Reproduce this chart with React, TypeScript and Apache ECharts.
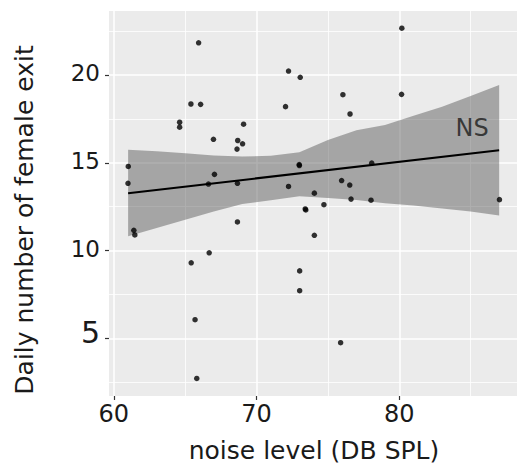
import React, { useEffect, useRef } from "react";
import * as echarts from "echarts";

const noiseLevel = [
  65.94, 65.4, 66.08, 64.61, 64.61, 69.09, 66.98, 68.68, 69.02, 68.63,
  61.01, 60.99, 67.05, 66.63, 68.66, 68.66, 61.4, 61.47, 66.68, 65.42,
  65.69, 65.81, 80.18, 72.24, 73.06, 76.05, 80.16, 72.03, 76.55, 72.99,
  78.07, 72.24, 75.96, 76.53, 74.05, 76.62, 78.02, 74.72, 73.41, 87.02,
  74.05, 73.02, 73.02, 75.89, 73.0, 73.45,
];
const femaleExits = [
  21.84, 18.35, 18.33, 17.31, 17.03, 17.2, 16.34, 16.27, 16.08, 15.78,
  14.79, 13.83, 14.34, 13.79, 13.83, 11.63, 11.15, 10.89, 9.87, 9.3,
  6.06, 2.71, 22.67, 20.23, 19.87, 18.88, 18.9, 18.2, 17.78, 14.9,
  14.98, 13.65, 13.99, 13.73, 13.27, 12.93, 12.87, 12.61, 12.37, 12.9,
  10.87, 8.84, 7.71, 4.75, 14.84, 12.31,
];

// Fitted line and its confidence band
const fitX = [61.0, 87.0];
const fitY = [13.27, 15.71];
const bandX = [61, 63, 65, 67, 69, 71, 73, 75, 77, 79, 81, 83, 85, 87];
const bandUpper = [15.74, 15.66, 15.55, 15.42, 15.36, 15.4, 15.6, 16.3, 16.85, 17.15, 17.68, 18.2, 18.81, 19.43];
const bandLower = [10.81, 11.28, 11.76, 12.23, 12.65, 12.86, 13.09, 13.0, 12.88, 12.7, 12.56, 12.4, 12.22, 11.99];

// Axes
const xTicks = [60, 70, 80];
const yTicks = [5, 10, 15, 20];
const xMinorGrid = [65, 75, 85];
const yMinorGrid = [2.5, 7.5, 12.5, 17.5, 22.5];
const xRange = [59.66, 88.25];
const yRange = [1.71, 23.65];

const annotation = "NS";
const annotationPos = [85.1, 17.0];
const xTitle = "noise level (DB SPL)";
const yTitle = "Daily number of female exit";

export default function App() {
  const ref = useRef<HTMLDivElement>(null);
  useEffect(() => {
    const chart = echarts.init(ref.current!, null, { renderer: "svg" });
    const font = "DejaVu Sans";
    const majorLine = { width: 1.5, color: "#ffffff", type: "solid" };
    const minorLine = { width: 0.8, color: "#ffffff", type: "solid" };
    const gridData: any[] = [
      ...xMinorGrid.map((v) => ({ xAxis: v, lineStyle: minorLine })),
      ...yMinorGrid.map((v) => ({ yAxis: v, lineStyle: minorLine })),
      ...xTicks.map((v) => ({ xAxis: v, lineStyle: majorLine })),
      ...yTicks.map((v) => ({ yAxis: v, lineStyle: majorLine })),
    ];
    chart.setOption({
      animation: false,
      grid: {
        left: 109,
        top: 11,
        width: 416,
        height: 385,
        show: true,
        backgroundColor: "#EBEBEB",
        borderWidth: 0,
      },
      xAxis: {
        type: "value",
        min: xRange[0],
        max: xRange[1],
        axisLine: { show: false },
        splitLine: { show: false },
        axisTick: {
          show: true,
          customValues: xTicks,
          length: 4,
          lineStyle: { color: "#333333", width: 1.2 },
        },
        axisLabel: {
          customValues: xTicks,
          margin: 6,
          fontSize: 24,
          fontFamily: font,
          color: "#1a1a1a",
        },
      },
      yAxis: {
        type: "value",
        min: yRange[0],
        max: yRange[1],
        axisLine: { show: false },
        splitLine: { show: false },
        axisTick: {
          show: true,
          customValues: yTicks,
          length: 4,
          lineStyle: { color: "#333333", width: 1.2 },
        },
        axisLabel: {
          customValues: yTicks,
          margin: 9,
          fontFamily: font,
          color: "#1a1a1a",
          formatter: (v: number) => (v === 5 ? "{big|5}" : "{n|" + v + "}"),
          rich: {
            n: { fontSize: 23, fontFamily: font, color: "#1a1a1a", padding: [0, 0, 4, 0] },
            big: { fontSize: 30, fontFamily: font, color: "#1a1a1a", padding: [0, 0, 11, 0] },
          },
        },
      },
      series: [
        {
          type: "line",
          data: [],
          z: 1,
          silent: true,
          markLine: {
            z: 1,
            silent: true,
            symbol: "none",
            animation: false,
            label: { show: false },
            emphasis: { disabled: true },
            data: gridData,
          },
        },
        {
          type: "custom",
          z: 2,
          silent: true,
          data: bandX.map((x, i) => [x, bandLower[i], bandUpper[i]]),
          encode: { x: 0, y: [1, 2] },
          renderItem: (params: any, api: any) => {
            if (params.dataIndex !== 0) return { type: "group", children: [] };
            const up = bandX.map((x, i) => api.coord([x, bandUpper[i]]));
            const lo = bandX.map((x, i) => api.coord([x, bandLower[i]])).reverse();
            return {
              type: "polygon",
              shape: { points: up.concat(lo) },
              style: { fill: "rgba(80,80,80,0.45)" },
            };
          },
        },
        {
          type: "line",
          z: 3,
          silent: true,
          data: fitX.map((x, i) => [x, fitY[i]]),
          symbol: "none",
          lineStyle: { color: "#000000", width: 2 },
        },
        {
          type: "scatter",
          z: 4,
          data: noiseLevel.map((x, i) => [x, femaleExits[i]]),
          symbolSize: 5.5,
          itemStyle: { color: "#000000" },
        },
        {
          type: "scatter",
          z: 5,
          silent: true,
          data: [annotationPos],
          symbolSize: 0,
          label: {
            show: true,
            formatter: annotation,
            position: "inside",
            fontSize: 24,
            fontFamily: font,
            color: "#1a1a1a",
          },
        },
      ],
      graphic: [
        {
          type: "text",
          x: 314,
          y: 450,
          style: {
            text: xTitle,
            fontSize: 25,
            lineHeight: 22,
            fontFamily: font,
            fill: "#1a1a1a",
            align: "center",
            verticalAlign: "middle",
          },
        },
        {
          type: "text",
          x: 24.4,
          y: 220,
          rotation: Math.PI / 2,
          style: {
            text: yTitle,
            fontSize: 25,
            lineHeight: 22,
            fontFamily: font,
            fill: "#1a1a1a",
            align: "center",
            verticalAlign: "middle",
          },
        },
      ],
    });
    return () => chart.dispose();
  }, []);
  return (
    <div
      ref={ref}
      style={{ position: "absolute", left: 0, top: 0, width: 517, height: 463 }}
    />
  );
}
